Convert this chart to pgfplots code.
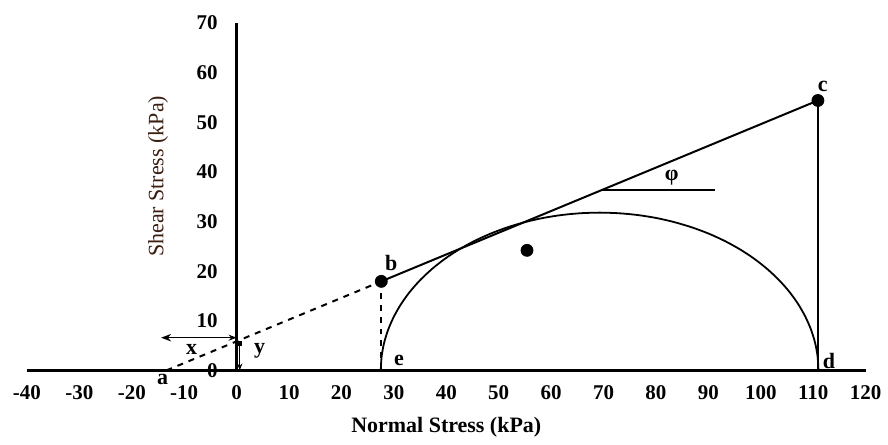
\documentclass[border=0pt]{standalone}
\usepackage{fontspec}
\setmainfont{Liberation Serif}
\usepackage{pgfplots}
\pgfplotsset{compat=1.18}
\usetikzlibrary{arrows.meta}
\definecolor{ylab}{HTML}{3A1E10}

\begin{document}
\begin{tikzpicture}
\begin{axis}[
  x=2.625pt, y=2.485pt,
  axis lines=middle, axis line style={-, line width=1.3pt},
  xmin=-40, xmax=120, ymin=0, ymax=70,
  xtick={-40,-30,...,120}, ytick={0,10,...,70},
  major tick length=0pt,
  tick label style={font=\bfseries\fontsize{10.5}{12}\selectfont},
  xticklabel style={yshift=-4pt},
  yticklabel style={xshift=-6pt},
  /pgf/number format/assume math mode=true,
  clip=false,
]
% invisible frame giving the page the reference's extent
\path (axis cs:-45.14,-14.29) rectangle (axis cs:124,74.65);

% Mohr circle (as drawn, stretched by the axis scales)
\addplot[smooth, line width=0.9pt] coordinates {
  (111.0,0) (110.84,2.77) (110.37,5.52) (109.58,8.23) (108.48,10.88)
  (107.09,13.44) (105.41,15.90) (103.45,18.24) (101.23,20.44) (98.77,22.49)
  (96.09,24.36) (93.20,26.05) (90.13,27.54) (86.89,28.82) (83.53,29.88)
  (80.06,30.72) (76.50,31.32) (72.89,31.68) (69.25,31.8) (65.61,31.68)
  (62.00,31.32) (58.44,30.72) (54.97,29.88) (51.61,28.82) (48.38,27.54)
  (45.30,26.05) (42.41,24.36) (39.73,22.49) (37.27,20.44) (35.05,18.24)
  (33.09,15.90) (31.41,13.44) (30.02,10.88) (28.92,8.23) (28.13,5.52)
  (27.66,2.77) (27.5,0)
};

% failure envelope
\addplot[dashed, line width=1pt] coordinates {(-13.4,0) (27.6,17.95)};
\addplot[line width=1pt] coordinates {(27.6,17.95) (110.9,54.4)};
\addplot[dashed, line width=1pt] coordinates {(27.6,0) (27.6,17.95)};
\addplot[line width=1.1pt] coordinates {(110.9,0) (110.9,54.4)};
\addplot[line width=1pt] coordinates {(69.5,36.28) (91.2,36.28)};

% points
\addplot[only marks, mark=*, mark size=3pt] coordinates {
  (27.6,17.95) (110.9,54.4) (55.4,24.2)
};

% x and y offsets
\addplot[line width=0.7pt, {Stealth[length=5pt]}-{Stealth[length=4pt]}] coordinates {(-14.4,6.6) (0,6.6)};
\addplot[line width=0.5pt, {Square[length=2.5pt]}-{Stealth[length=3.5pt]}] coordinates {(0.6,5.9) (0.6,0)};

% origin tick labels (pgfplots leaves them out on middle axes)
\node[font=\bfseries\fontsize{10.5}{12}\selectfont, anchor=north, yshift=-4pt] at (axis cs:0,0) {0};
\node[font=\bfseries\fontsize{10.5}{12}\selectfont, anchor=east, xshift=-6pt] at (axis cs:0,0) {0};

\begin{scope}[font=\bfseries\fontsize{11}{13}\selectfont]
\node at (axis cs:-14.1,-1.8) {a};
\node at (axis cs:29.5,21.7) {b};
\node at (axis cs:111.8,57.2) {c};
\node at (axis cs:113,1.9) {d};
\node at (axis cs:31,2.1) {e};
\node at (axis cs:-8.6,4.2) {x};
\node at (axis cs:4.4,3.9) {y};
\node at (axis cs:83,38.8) {φ};
\end{scope}

\node[font=\bfseries\fontsize{11}{13}\selectfont] at (axis cs:40,-11.5) {Normal Stress (kPa)};
\node[font=\fontsize{11}{13}\selectfont, text=ylab, rotate=90] at (axis cs:-15,39.1) {Shear Stress (kPa)};
\end{axis}
\end{tikzpicture}
\end{document}
